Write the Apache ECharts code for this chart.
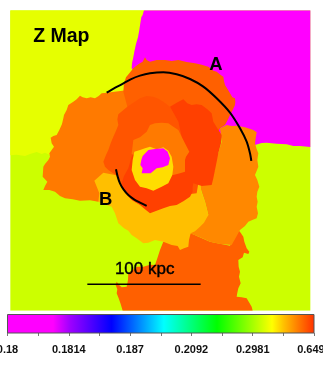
<!DOCTYPE html>
<html><head><meta charset="utf-8">
<style>html,body{margin:0;padding:0;background:#fff}#c{width:323px;height:365px}</style>
<script src="https://cdn.jsdelivr.net/npm/echarts@6/dist/echarts.min.js"></script>
</head><body><div id="c"></div>
<script>
// Map coordinates: arbitrary map units, x 31..931, y 31..932 (down)
const mapLimits = [31, 931, 31, 932];
const colors = {magenta:'#ff00ff', lime:'#ccff00', yellowGreen:'#e6ff00', orange:'#ff7a00', rightOrange:'#ff8800', top:'#ff6000', ring:'#ff5500', redOrange:'#ff4000', amber:'#ffbf00', yellow:'#ffdd00'};

const bgLime = [[31,31],[931,31],[931,932],[31,932]];
const topLeftYellow = [[31,31],[432,31],[428,45],[424,52],[421,70],[418,90],[414,112],[408,132],[403,155],[400,172],[396,190],[395,205],[400,300],[160,480],[150,465],[135,458],[125,462],[110,456],[90,462],[75,468],[50,464],[31,466]];
const topRightMagenta = [[432,31],[931,31],[931,441],[900,438],[880,438],[860,433],[830,431],[800,428],[785,429],[765,435],[600,400],[395,205],[396,190],[400,172],[403,155],[408,132],[414,112],[418,90],[421,70],[424,52],[428,45]];
const leftOrange = [[385,270],[320,278],[305,280],[296,288],[285,295],[272,292],[260,295],[248,292],[240,287],[230,298],[220,305],[205,315],[200,330],[192,345],[190,355],[186,372],[178,390],[170,405],[160,408],[152,413],[155,430],[162,440],[155,450],[148,460],[150,470],[145,480],[135,492],[130,500],[129,515],[128,530],[135,538],[142,545],[135,558],[130,570],[148,570],[165,575],[180,588],[195,595],[218,598],[240,602],[270,601],[295,605],[400,560],[420,400]];
const bottomDark = [[572,700],[630,725],[690,737],[715,690],[722,698],[730,710],[733,725],[740,745],[748,755],[745,762],[732,758],[728,772],[715,780],[716,800],[720,815],[717,830],[722,850],[715,865],[712,878],[710,890],[725,892],[740,895],[748,908],[755,920],[758,932],[368,932],[362,912],[356,895],[350,880],[352,868],[347,855],[350,845],[358,856],[365,862],[380,860],[384,840],[385,820],[398,810],[410,800],[430,800],[450,794],[465,795],[472,775],[480,750],[486,735],[490,725]];
const topDark = [[372,250],[378,232],[388,220],[400,205],[412,195],[420,190],[428,185],[435,172],[440,180],[450,185],[470,180],[495,180],[515,183],[535,180],[560,186],[585,190],[605,194],[625,200],[640,212],[650,215],[662,225],[670,230],[672,243],[675,255],[683,268],[690,280],[697,292],[705,295],[706,305],[705,315],[698,330],[690,345],[683,360],[675,375],[660,385],[640,420],[400,380],[382,320],[370,275]];
const rightOrangeArea = [[660,385],[680,375],[695,378],[710,377],[735,382],[760,390],[770,397],[767,415],[765,430],[770,447],[775,460],[772,480],[775,500],[765,525],[772,540],[778,560],[772,575],[770,590],[773,605],[770,620],[774,640],[770,655],[757,660],[745,665],[735,678],[720,690],[708,712],[695,735],[660,732],[630,725],[600,712],[570,700],[625,645],[615,605],[600,560],[645,510],[640,480],[655,460],[665,425]];
const amberArea = [[283,542],[310,518],[345,525],[400,540],[600,540],[604,575],[615,605],[625,645],[612,668],[600,680],[585,694],[572,700],[567,720],[565,740],[552,745],[540,750],[533,738],[515,735],[490,725],[465,720],[445,728],[430,730],[420,722],[410,715],[395,705],[385,692],[372,685],[355,670],[350,655],[345,640],[335,620],[310,612],[295,605],[298,580]];
const midRing = [[382,320],[400,308],[420,295],[440,288],[460,290],[475,296],[490,305],[510,320],[535,365],[560,440],[600,520],[590,580],[420,600],[370,570],[355,530],[325,510],[315,500],[310,485],[318,465],[325,450],[332,430],[340,410],[348,392],[355,375],[352,358],[355,343]];
const redArea = [[510,320],[530,308],[550,298],[562,310],[575,315],[590,313],[605,315],[622,328],[635,340],[640,365],[652,385],[665,405],[663,430],[655,460],[650,485],[645,510],[640,535],[635,555],[605,558],[580,550],[578,560],[578,575],[570,590],[550,604],[530,615],[510,618],[490,625],[470,632],[450,640],[435,628],[420,615],[395,600],[375,578],[365,550],[372,528],[385,505],[395,470],[420,430],[510,420],[545,410],[535,365]];
const innerOrange = [[395,462],[400,420],[420,412],[440,395],[450,375],[465,370],[485,368],[505,370],[520,380],[535,390],[545,410],[556,432],[568,455],[558,470],[555,480],[555,500],[555,515],[540,520],[520,525],[500,520],[420,470]];
const innerYellow = [[403,455],[420,450],[435,445],[450,440],[470,448],[490,442],[505,452],[515,470],[520,500],[517,525],[505,550],[485,560],[460,572],[440,565],[420,560],[405,540],[395,510],[398,480]];
const centerMagenta = [[428,468],[445,450],[465,447],[490,445],[503,455],[510,475],[505,495],[488,502],[470,505],[452,520],[425,520],[428,505],[421,495],[424,480]];

const regions = [
  ['lime', bgLime], ['yellowGreen', topLeftYellow], ['magenta', topRightMagenta],
  ['top', bottomDark], ['orange', leftOrange], ['top', topDark], ['rightOrange', rightOrangeArea],
  ['amber', amberArea], ['ring', midRing], ['redOrange', redArea],
  ['orange', innerOrange], ['yellow', innerYellow], ['magenta', centerMagenta]
];

const arcA = [[320,278],[342,265],[365,253],[392,238],[420,227],[450,220],[490,217],[530,223],[570,237],[610,260],[650,295],[690,338],[720,385],[740,425],[750,460],[754,483]];
const arcB = [[348,508],[353,530],[360,550],[371,569],[385,585],[402,598],[420,608],[440,618]];
const scaleBar = [[262,853],[602,853]];
const labels = [['Z Map',184,110,19.5,'bold',0],['A',648,195,18.5,'bold',0],['B',317,599,18.5,'bold',0],['100 kpc',434,808,17,'normal',0.4]];

const barStops = [[0,'#ff00ff'],[0.15,'#ff00ff'],[0.204,'#a000ff'],[0.34,'#0000ff'],[0.51,'#00ffff'],[0.683,'#00ff00'],[0.862,'#ffff00'],[0.9,'#ffc000'],[0.955,'#ff7000'],[1,'#ff3000']];
const barTicks = ['0.18','','0.1814','','0.187','','0.2092','','0.2981','','0.649  '];

const chart = echarts.init(document.getElementById('c'), null, {renderer:'canvas'});
const fontFamily = '"Liberation Sans", Arial, sans-serif';
chart.setOption({
  animation:false,
  backgroundColor:'#fff',
  grid:[
    {left:10.33, top:10.33, width:300, height:300.3, outerBoundsMode:'none'},
    {left:7.5, top:314.5, width:306.5, height:18.5, outerBoundsMode:'none'}
  ],
  xAxis:[
    {gridIndex:0, type:'value', min:mapLimits[0], max:mapLimits[1], show:false},
    {gridIndex:1, type:'value', min:0, max:10, interval:1, position:'bottom',
     axisLine:{show:false}, splitLine:{show:false},
     axisTick:{show:true, length:3, lineStyle:{color:'#777', width:1}},
     axisLabel:{show:true, margin:11, fontFamily, fontSize:11, fontWeight:'bold', color:'#111', hideOverlap:false, showMinLabel:true, showMaxLabel:true,
       formatter:v=>barTicks[Math.round(v)]}}
  ],
  yAxis:[
    {gridIndex:0, type:'value', inverse:true, min:mapLimits[2], max:mapLimits[3], show:false},
    {gridIndex:1, type:'value', min:0, max:1, show:false}
  ],
  series:[
    {type:'custom', xAxisIndex:0, yAxisIndex:0, clip:true, silent:true,
     data:regions.map((r,i)=>[i]),
     renderItem:(p,api)=>{
       const r = regions[api.value(0)];
       return {type:'polygon', shape:{points:r[1].map(q=>api.coord(q))}, style:{fill:colors[r[0]], stroke:null}};
     }},
    {type:'line', xAxisIndex:0, yAxisIndex:0, data:arcA, smooth:0.3, symbol:'none', z:5, lineStyle:{color:'#000', width:2}},
    {type:'line', xAxisIndex:0, yAxisIndex:0, data:arcB, smooth:0.3, symbol:'none', z:5, lineStyle:{color:'#000', width:2}},
    {type:'line', xAxisIndex:0, yAxisIndex:0, data:scaleBar, symbol:'none', z:5, lineStyle:{color:'#000', width:1.6}},
    {type:'custom', xAxisIndex:0, yAxisIndex:0, silent:true, z:6, data:labels.map((l,i)=>[i]),
     renderItem:(p,api)=>{
       const l = labels[api.value(0)], c = api.coord([l[1],l[2]]);
       return {type:'text', x:c[0], y:c[1], style:{text:l[0], fontFamily, fontSize:l[3], fontWeight:l[4], fill:'#000', stroke:l[5]?'#000':null, lineWidth:l[5], align:'center', verticalAlign:'middle'}};
     }},
    {type:'custom', xAxisIndex:1, yAxisIndex:1, silent:true, data:[[0]],
     renderItem:(p,api)=>{
       const a = api.coord([0,1]), b = api.coord([10,0]);
       return {type:'rect', shape:{x:a[0],y:a[1],width:b[0]-a[0],height:b[1]-a[1]},
         style:{stroke:'#555', lineWidth:1, fill:new echarts.graphic.LinearGradient(0,0,1,0,barStops.map(s=>({offset:s[0],color:s[1]})))}};
     }}
  ]
});
</script></body></html>
